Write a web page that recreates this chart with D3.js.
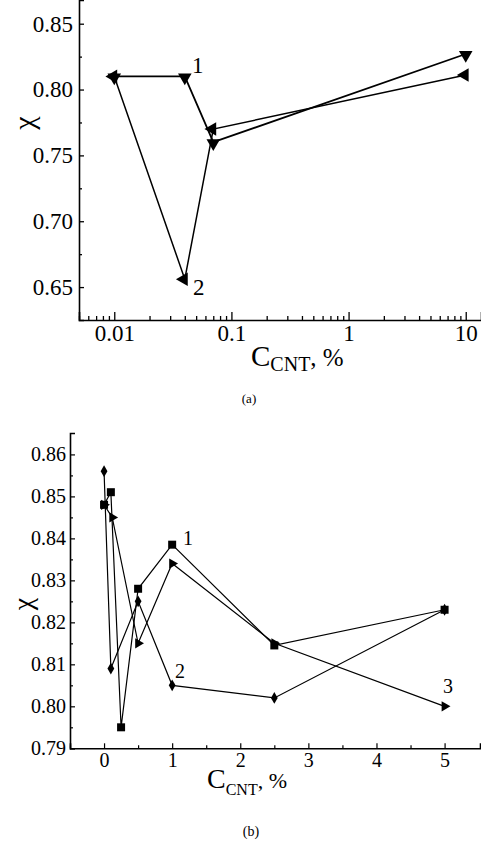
<!DOCTYPE html>
<html><head><meta charset="utf-8">
<script src="https://cdn.jsdelivr.net/npm/d3@7"></script>
<style>
html,body{margin:0;padding:0;background:#fff;}
svg text{font-family:"Liberation Serif","Times New Roman",serif !important;}
</style></head>
<body>
<svg id="c" width="481" height="847"></svg>
<script>
// ---------- Panel (a) data ----------
const aX = [0.01, 0.04, 0.07, 10];
const aSeries1 = [0.810, 0.810, 0.760, 0.827]; // down triangles, label "1"
const aSeries2 = [0.810, 0.656, 0.770, 0.811]; // left triangles, label "2"
const aXTicks = [0.01, 0.1, 1, 10];
const aXTickLabels = ["0.01", "0.1", "1", "10"];
const aYTicks = [0.65, 0.70, 0.75, 0.80, 0.85];

// ---------- Panel (b) data ----------
const bSeries1X = [0, 0.1, 0.25, 0.5, 1, 2.5, 5];
const bSeries1Y = [0.848, 0.851, 0.795, 0.828, 0.8385, 0.8145, 0.823]; // squares "1"
const bSeries2X = [0, 0.1, 0.5, 1, 2.5, 5];
const bSeries2Y = [0.856, 0.809, 0.825, 0.805, 0.802, 0.823]; // diamonds "2"
const bSeries3X = [0, 0.12, 0.5, 1, 2.5, 5];
const bSeries3Y = [0.848, 0.845, 0.815, 0.834, 0.815, 0.800]; // right triangles "3"
const bXTicks = [0, 1, 2, 3, 4, 5];
const bYTicks = [0.79, 0.80, 0.81, 0.82, 0.83, 0.84, 0.85, 0.86];

const svg = d3.select("#c");

// ================= Panel (a) =================
const ax = d3.scaleLog().domain([0.005, 13.5]).range([79, 481]);
const ay = d3.scaleLinear().domain([0.625, 0.868]).range([320, 0]);
const ga = svg.append("g");

const aMinor = [];
[0.001, 0.01, 0.1, 1].forEach(d => { for (let k = 2; k <= 9; k++) { const v = d * k; if (v >= 0.005 && v <= 13.5) aMinor.push(v); } });
ga.append("g").attr("transform", "translate(0,320)")
  .call(d3.axisBottom(ax).tickValues(aMinor).tickSize(-4).tickFormat(""))
  .call(g => g.select(".domain").remove());
ga.append("g").attr("transform", "translate(0,320)")
  .call(d3.axisBottom(ax).tickValues(aXTicks).tickSize(-8).tickPadding(5)
    .tickFormat((d, i) => aXTickLabels[i]))
  .call(g => g.selectAll("text").attr("font-size", 23));
const aYMinor = [0.675, 0.725, 0.775, 0.825];
ga.append("g").attr("transform", "translate(79,0)")
  .call(d3.axisLeft(ay).tickValues(aYMinor).tickSize(-3).tickFormat(""))
  .call(g => g.select(".domain").remove());
ga.append("g").attr("transform", "translate(79,0)")
  .call(d3.axisLeft(ay).tickValues(aYTicks).tickSize(-5).tickPadding(6).tickFormat(d3.format(".2f")))
  .call(g => g.selectAll("text").attr("font-size", 23));
ga.selectAll(".domain").attr("stroke-width", 1.6);
ga.selectAll(".tick line").attr("stroke-width", 1.3);

const aLine = d3.line().x(d => ax(d[0])).y(d => ay(d[1]));
const a1 = aX.map((x, i) => [x, aSeries1[i]]);
const a2 = aX.map((x, i) => [x, aSeries2[i]]);
ga.append("path").attr("d", aLine(a1)).attr("fill", "none").attr("stroke", "#000").attr("stroke-width", 1.8);
ga.append("path").attr("d", aLine(a2)).attr("fill", "none").attr("stroke", "#000").attr("stroke-width", 1.5);
const tri = d3.symbol().type(d3.symbolTriangle).size(80)();
ga.selectAll(".m1").data(a1).join("path").attr("d", tri)
  .attr("transform", d => `translate(${ax(d[0])},${ay(d[1]) + 1}) rotate(180)`).attr("fill", "#000");
ga.selectAll(".m2").data(a2).join("path").attr("d", tri)
  .attr("transform", d => `translate(${ax(d[0]) - 1},${ay(d[1])}) rotate(-90)`).attr("fill", "#000");
ga.append("text").attr("x", 192).attr("y", 73).attr("font-size", 23).text("1");
ga.append("text").attr("x", 193).attr("y", 295).attr("font-size", 23).text("2");

ga.append("text").attr("transform", "translate(34,123) rotate(-90)").attr("text-anchor", "middle")
  .attr("font-size", 30).text("χ");
const at = ga.append("text").attr("x", 251).attr("y", 366);
at.append("tspan").attr("font-size", 29).text("C");
at.append("tspan").attr("font-size", 20).attr("dy", 5).text("CNT");
at.append("tspan").attr("font-size", 25).attr("dy", -5).text(", %");
ga.append("text").attr("x", 249).attr("y", 403).attr("text-anchor", "middle").attr("font-size", 13).text("(a)");

// ================= Panel (b) =================
const bx = d3.scaleLinear().domain([-0.5, 5.52]).range([70, 480]);
const by = d3.scaleLinear().domain([0.79, 0.8651]).range([748.3, 433]);
const gb = svg.append("g");
gb.append("g").attr("transform", "translate(0,748.3)")
  .call(d3.axisBottom(bx).tickValues([-0.5, 0.5, 1.5, 2.5, 3.5, 4.5]).tickSize(-3).tickFormat(""))
  .call(g => g.select(".domain").remove());
gb.append("g").attr("transform", "translate(0,748.3)")
  .call(d3.axisBottom(bx).tickValues(bXTicks).tickSize(-5).tickPadding(5).tickFormat(d3.format("d")))
  .call(g => g.selectAll("text").attr("font-size", 20));
gb.append("g").attr("transform", "translate(70,0)")
  .call(d3.axisLeft(by).tickValues([0.795, 0.805, 0.815, 0.825, 0.835, 0.845, 0.855]).tickSize(-3).tickFormat(""))
  .call(g => g.select(".domain").remove());
gb.append("g").attr("transform", "translate(70,0)")
  .call(d3.axisLeft(by).tickValues(bYTicks).tickSize(-5).tickPadding(4).tickFormat(d3.format(".2f")))
  .call(g => g.selectAll("text").attr("font-size", 20));
gb.selectAll(".domain").attr("stroke-width", 1.6);
gb.selectAll(".tick line").attr("stroke-width", 1.2);

const bLine = d3.line().x(d => bx(d[0])).y(d => by(d[1]));
const b1 = bSeries1X.map((x, i) => [x, bSeries1Y[i]]);
const b2 = bSeries2X.map((x, i) => [x, bSeries2Y[i]]);
const b3 = bSeries3X.map((x, i) => [x, bSeries3Y[i]]);
[b1, b2, b3].forEach(s => gb.append("path").attr("d", bLine(s)).attr("fill", "none")
  .attr("stroke", "#000").attr("stroke-width", 1.2));
const sq = d3.symbol().type(d3.symbolSquare).size(64)();
const dm = d3.symbol().type(d3.symbolDiamond).size(40)();
const tr = d3.symbol().type(d3.symbolTriangle).size(45)();
gb.selectAll(".s1").data(b1).join("path").attr("d", sq)
  .attr("transform", d => `translate(${bx(d[0])},${by(d[1])})`).attr("fill", "#000");
gb.selectAll(".s2").data(b2).join("path").attr("d", dm)
  .attr("transform", d => `translate(${bx(d[0])},${by(d[1])})`).attr("fill", "#000");
gb.selectAll(".s3").data(b3).join("path").attr("d", tr)
  .attr("transform", d => `translate(${bx(d[0])},${by(d[1])}) rotate(90)`).attr("fill", "#000");
gb.append("text").attr("x", 183).attr("y", 545).attr("font-size", 20).text("1");
gb.append("text").attr("x", 175).attr("y", 678).attr("font-size", 20).text("2");
gb.append("text").attr("x", 443).attr("y", 693).attr("font-size", 20).text("3");

gb.append("text").attr("transform", "translate(32,604) rotate(-90)").attr("text-anchor", "middle")
  .attr("font-size", 28).text("χ");
const bt = gb.append("text").attr("x", 207).attr("y", 788);
bt.append("tspan").attr("font-size", 28).text("C");
bt.append("tspan").attr("font-size", 16).attr("dy", 7).text("CNT");
bt.append("tspan").attr("font-size", 22).attr("dy", -7).text(", %");
gb.append("text").attr("x", 251).attr("y", 836).attr("text-anchor", "middle").attr("font-size", 14).text("(b)");
</script>
</body></html>
